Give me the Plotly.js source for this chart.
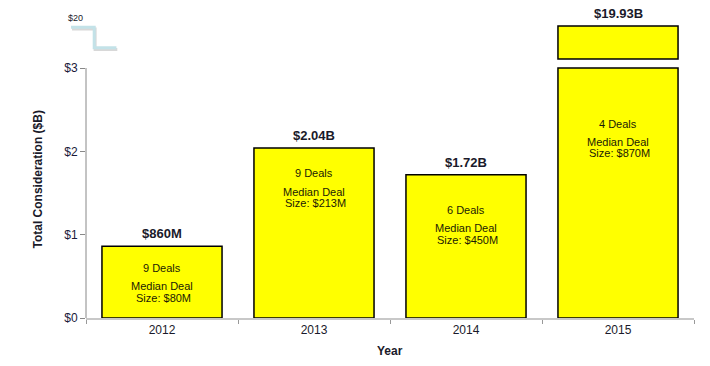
<!DOCTYPE html>
<html>
<head>
<meta charset="utf-8">
<script src="https://cdn.plot.ly/plotly-3.0.1.min.js"></script>
<style>html,body{margin:0;padding:0;background:#fff;}#chart{width:710px;height:366px;}</style>
</head>
<body>
<div id="chart"></div>
<script>
// ---- data ----
const years = ['2012', '2013', '2014', '2015'];
const totalB = [0.86, 2.04, 1.72, 19.93];           // total consideration, $B
const valueLabels = ['$860M', '$2.04B', '$1.72B', '$19.93B'];
const deals = [9, 9, 6, 4];
const medianDeal = ['$80M', '$213M', '$450M', '$870M'];
const yTicks = [0, 1, 2, 3];
const yTickText = ['$0', '$1', '$2', '$3'];

// ---- broken axis: lower segment 0..3, upper segment shows the value above the break ----
const breakAt = 3.0;
const upperLo = 3.108, upperHi = 3.504;  // display band for values above the break
const shown = totalB.map(v => Math.min(v, breakAt));
const overIdx = totalB.map((v, i) => v > breakAt ? i : -1).filter(i => i >= 0);

const lineCol = '#000';
const fill = '#FFFF00';

const traces = [
  {
    type: 'bar', x: years, y: shown,
    marker: {color: fill, line: {color: lineCol, width: 1.5}},
    hoverinfo: 'skip', showlegend: false
  },
  {
    type: 'bar', x: overIdx.map(i => years[i]),
    y: overIdx.map(() => upperHi - upperLo),
    base: overIdx.map(() => upperLo),
    marker: {color: fill, line: {color: lineCol, width: 1.5}},
    hoverinfo: 'skip', showlegend: false
  }
];

// in-bar note positions (display units)
const dealsY = [0.600, 1.740, 1.296, 2.328];
const medY = [0.384, 1.512, 1.080, 2.112];
const sizeY = [0.240, 1.380, 0.936, 1.980];

const txtCol = '#1b1b05';
const F = 'Liberation Sans, Arial, sans-serif';
const annotations = [];
years.forEach((yr, i) => {
  const top = totalB[i] > breakAt ? upperHi : shown[i];
  annotations.push({
    x: i, y: top, xref: 'x', yref: 'y', text: valueLabels[i], showarrow: false,
    yanchor: 'bottom', yshift: 3,
    font: {family: F, size: 13, color: '#1a1a2a', weight: 'bold'}
  });
  annotations.push({
    x: i, y: dealsY[i], xref: 'x', yref: 'y', text: deals[i] + ' Deals', showarrow: false,
    yanchor: 'middle', font: {family: F, size: 11, color: txtCol}
  });
  annotations.push({
    x: i, y: medY[i], xref: 'x', yref: 'y', text: 'Median Deal', showarrow: false,
    yanchor: 'middle', font: {family: F, size: 11, color: txtCol}
  });
  annotations.push({
    x: i, y: sizeY[i], xref: 'x', yref: 'y', text: 'Size: ' + medianDeal[i], showarrow: false,
    yanchor: 'middle', xshift: 1, font: {family: F, size: 11, color: txtCol}
  });
});
annotations.push({
  x: -0.018, y: 3.6, xref: 'paper', yref: 'y', text: '$20', showarrow: false,
  xanchor: 'center', yanchor: 'middle', font: {family: F, size: 9, color: '#1a1a2a'}
});
annotations.push({
  x: -0.0792, y: 1.66, xref: 'paper', yref: 'y', text: 'Total Consideration ($B)', showarrow: false,
  textangle: -90, xanchor: 'center', yanchor: 'middle',
  font: {family: F, size: 12, color: '#1a1a2a', weight: 'bold'}
});
annotations.push({
  x: 0.5, y: -0.106, xref: 'paper', yref: 'paper', text: 'Year', showarrow: false,
  xanchor: 'center', yanchor: 'middle',
  font: {family: F, size: 12, color: '#1a1a2a', weight: 'bold'}
});

const shapes = [
  {type: 'line', xref: 'paper', yref: 'y', x0: 0, x1: 0, y0: 0, y1: breakAt,
   line: {color: '#888', width: 1}},
  {type: 'path', xref: 'paper', yref: 'paper',
   path: 'M -0.0230,0.932 L 0.0150,0.932 L 0.0150,0.866 L 0.0515,0.866',
   line: {color: '#d8d8d8', width: 3}},
  {type: 'path', xref: 'paper', yref: 'paper',
   path: 'M -0.0247,0.938 L 0.0135,0.938 L 0.0135,0.872 L 0.0500,0.872',
   line: {color: '#c3e2e8', width: 3}}
];

const layout = {
  width: 710, height: 366,
  margin: {l: 86, r: 16, t: 8, b: 48},
  paper_bgcolor: '#fff', plot_bgcolor: '#fff',
  bargap: 0.21, barmode: 'overlay',
  font: {family: F, size: 12, color: '#1a1a2a'},
  xaxis: {
    type: 'category', categoryorder: 'array', categoryarray: years,
    range: [-0.5, 3.5], showgrid: false, zeroline: false,
    showline: true, linecolor: '#c8c8c8', linewidth: 2,
    ticks: 'outside', tickson: 'boundaries', ticklen: 4, tickcolor: '#999', tickwidth: 1,
    tickangle: 0, tickfont: {size: 12, color: '#1a1a2a'}
  },
  yaxis: {
    range: [0, 3.72], showgrid: false, zeroline: false, showline: false,
    tickvals: yTicks, ticktext: yTickText,
    ticks: 'outside', ticklen: 5, tickcolor: '#888', tickwidth: 1,
    tickfont: {size: 12, color: '#1a1a3a'}
  },
  annotations: annotations,
  shapes: shapes
};

Plotly.newPlot('chart', traces, layout, {staticPlot: true, displayModeBar: false});
</script>
</body>
</html>
